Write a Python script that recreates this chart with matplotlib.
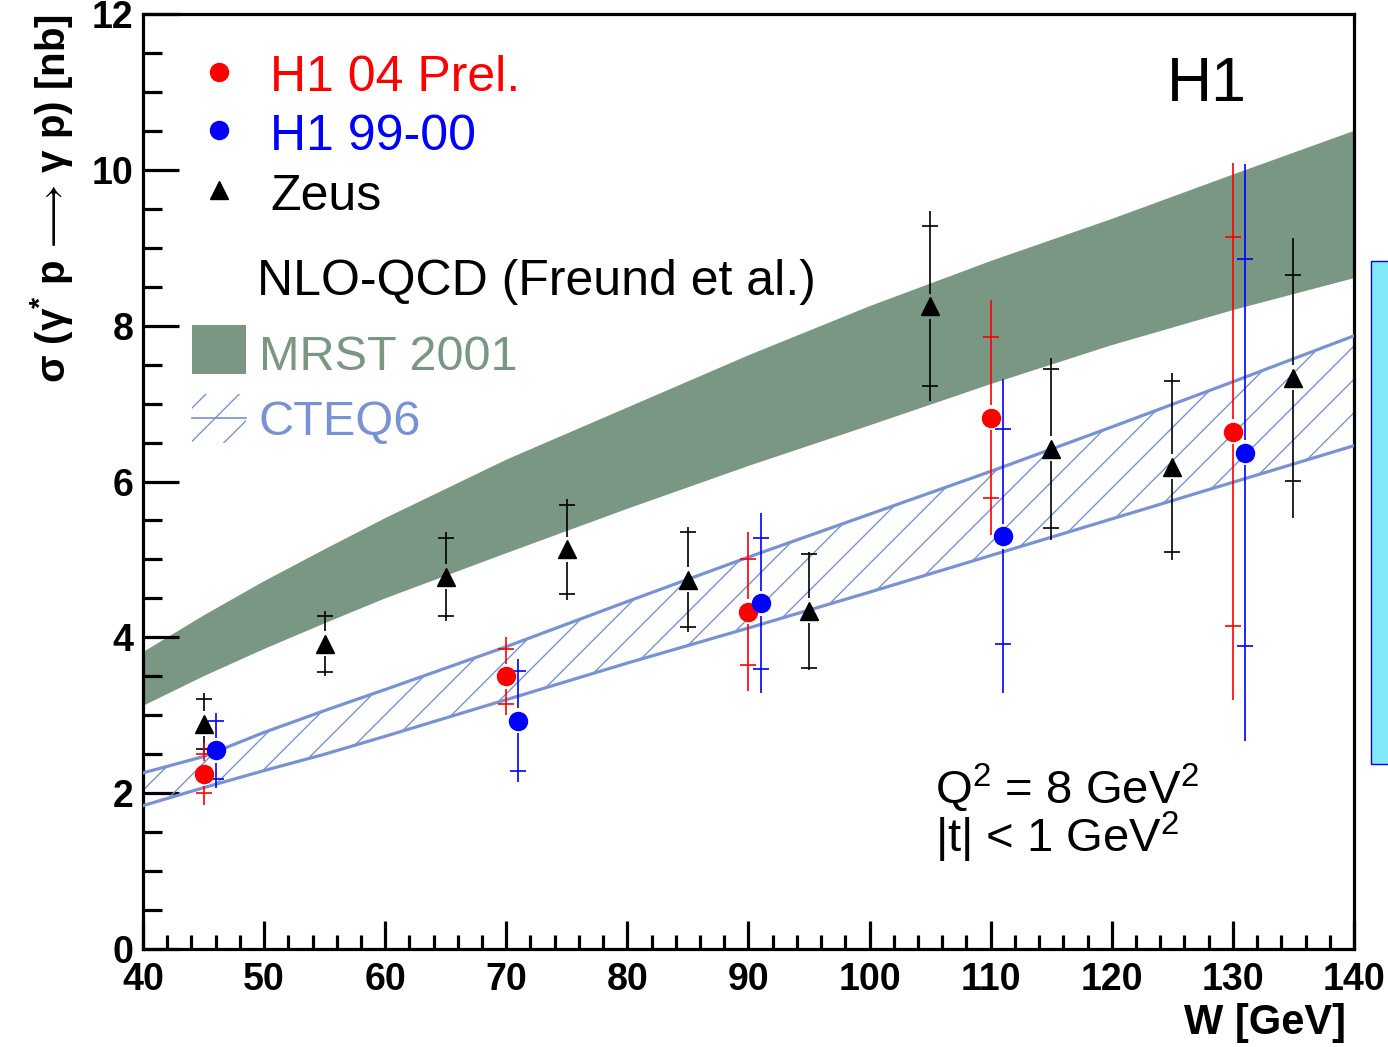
import matplotlib
matplotlib.use('Agg')
import matplotlib.pyplot as plt
import matplotlib.transforms as mtransforms
from matplotlib.patches import Rectangle
from matplotlib.ticker import MultipleLocator
import numpy as np

plt.rcParams['font.family'] = ['Liberation Sans', 'DejaVu Sans']
plt.rcParams['mathtext.fontset'] = 'custom'
plt.rcParams['mathtext.rm'] = 'Liberation Sans'
plt.rcParams['mathtext.it'] = 'Liberation Sans:italic'
plt.rcParams['mathtext.bf'] = 'Liberation Sans:bold'
plt.rcParams['mathtext.default'] = 'regular'
plt.rcParams['hatch.linewidth'] = 1.0

# H1 04 preliminary
h1_04_w = [45, 70, 90, 110, 130]
h1_04_xs = [2.25, 3.50, 4.33, 6.82, 6.64]
h1_04_stat = [0.25, 0.35, 0.68, 1.03, 2.50]
h1_04_tot = [0.40, 0.50, 1.02, 1.51, 3.45]

# H1 99-00
h1_99_w = [46, 71, 91, 111, 131]
h1_99_xs = [2.55, 2.93, 4.44, 5.30, 6.37]
h1_99_stat = [0.37, 0.64, 0.84, 1.38, 2.48]
h1_99_tot = [0.48, 0.79, 1.16, 2.01, 3.70]

# Zeus
zeus_w = [45, 55, 65, 75, 85, 95, 105, 115, 125, 135]
zeus_xs = [2.89, 3.92, 4.78, 5.13, 4.74, 4.34, 8.25, 6.42, 6.19, 7.33]
zeus_stat = [0.32, 0.36, 0.50, 0.57, 0.61, 0.73, 1.03, 1.02, 1.10, 1.32]
zeus_tot = [0.40, 0.42, 0.57, 0.65, 0.67, 0.76, 1.22, 1.17, 1.20, 1.80]

# NLO-QCD bands
mrst_w = [40, 45, 50, 55, 60, 70, 80, 90, 100, 110, 120, 130, 140]
mrst_lo = [3.12, 3.50, 3.85, 4.18, 4.50, 5.08, 5.65, 6.20, 6.72, 7.25, 7.75, 8.20, 8.61]
mrst_hi = [3.81, 4.28, 4.72, 5.13, 5.53, 6.28, 6.95, 7.62, 8.25, 8.83, 9.37, 9.94, 10.50]

cteq_w = [40, 45, 50, 55, 60, 70, 80, 90, 100, 110, 120, 130, 140]
cteq_lo = [1.84, 2.07, 2.29, 2.50, 2.73, 3.20, 3.67, 4.12, 4.58, 5.05, 5.52, 5.99, 6.46]
cteq_hi = [2.26, 2.47, 2.78, 3.06, 3.33, 3.88, 4.46, 5.03, 5.58, 6.13, 6.70, 7.28, 7.87]

GREEN = '#7a9783'
CBLUE = '#7892d2'
GAP = 0.16


def data_points(ax, w, xs, stat, tot, color, marker, ms):
    w = np.array(w)
    xs = np.array(xs)
    stat = np.array(stat)
    tot = np.array(tot)
    ax.vlines(w, xs + GAP, xs + tot, color=color, lw=1.2, zorder=5)
    ax.vlines(w, xs - tot, xs - GAP, color=color, lw=1.2, zorder=5)
    ax.errorbar(w, xs, yerr=stat, fmt='none', ecolor=color, elinewidth=0,
                capsize=5.5, capthick=1.2, zorder=5)
    ax.plot(w, xs, ls='none', marker=marker, ms=ms, color=color,
            mec=color, zorder=6)


fig = plt.figure(figsize=(13.88, 10.47), dpi=100)
ax = fig.add_axes([0.1030, 0.0936, 0.8725, 0.8930])

ax.fill_between(mrst_w, mrst_lo, mrst_hi, facecolor=GREEN, edgecolor='none', zorder=1)
ax.fill_between(cteq_w, cteq_lo, cteq_hi, facecolor='none', edgecolor=CBLUE,
                hatch='/', linewidth=0, zorder=2)
ax.plot(cteq_w, cteq_lo, color=CBLUE, lw=2.3, zorder=3)
ax.plot(cteq_w, cteq_hi, color=CBLUE, lw=2.3, zorder=3)

data_points(ax, zeus_w, zeus_xs, zeus_stat, zeus_tot, 'black', '^', 13.5)
data_points(ax, h1_04_w, h1_04_xs, h1_04_stat, h1_04_tot, '#ff0000', 'o', 13)
data_points(ax, h1_99_w, h1_99_xs, h1_99_stat, h1_99_tot, '#0000ff', 'o', 13)

ax.set_xlim(40, 140)
ax.set_ylim(0, 12)
ax.xaxis.set_major_locator(MultipleLocator(10))
ax.xaxis.set_minor_locator(MultipleLocator(2))
ax.yaxis.set_major_locator(MultipleLocator(2))
ax.yaxis.set_minor_locator(MultipleLocator(0.5))
ax.tick_params(axis='both', which='both', direction='in', top=False, right=False, width=2.3)
ax.tick_params(axis='y', which='major', length=26, pad=7)
ax.tick_params(axis='y', which='minor', length=13.5)
ax.tick_params(axis='x', which='major', length=20, pad=9)
ax.tick_params(axis='x', which='minor', length=10)
for lab in ax.get_xticklabels() + ax.get_yticklabels():
    lab.set_fontsize(27)
    lab.set_fontweight('bold')
for sp in ax.spines.values():
    sp.set_linewidth(2.3)

# lift the "0" a little so it just touches the "40" below it, as in ROOT
zero_lab = ax.get_yticklabels()[0]
zero_lab.set_transform(zero_lab.get_transform() +
                       mtransforms.ScaledTranslation(0, 4 / 72, fig.dpi_scale_trans))

ax.set_xlabel('W [GeV]', fontsize=30, fontweight='bold', loc='right')
ax.xaxis.set_label_coords(0.993, -0.058)
ax.set_ylabel(r'$\sigma$ ($\gamma^{*}$ p$\,\longrightarrow\,$$\gamma$ p) [nb]',
              fontsize=29, fontweight='bold', loc='top')
ax.yaxis.set_label_coords(-0.056, 1.0)

# legend, drawn by hand like the ROOT TLegend
tr = ax.transAxes
ax.plot([0.0628], [0.938], 'o', color='#ff0000', ms=13, transform=tr, clip_on=False)
ax.plot([0.0628], [0.876], 'o', color='#0000ff', ms=13, transform=tr, clip_on=False)
ax.plot([0.0628], [0.812], '^', color='black', ms=13, transform=tr, clip_on=False)
ax.text(0.1049, 0.9176, 'H1 04 Prel.', color='#ff0000', fontsize=36, transform=tr)
ax.text(0.1049, 0.8545, 'H1 99-00', color='#0000ff', fontsize=36, transform=tr)
ax.text(0.1049, 0.7900, 'Zeus', color='black', fontsize=36, transform=tr)
ax.text(0.0941, 0.6995, 'NLO-QCD (Freund et al.)', color='black', fontsize=36, transform=tr)
ax.add_patch(Rectangle((0.0405, 0.6150), 0.0446, 0.0524, facecolor=GREEN,
                       edgecolor='none', transform=tr))
ax.text(0.0958, 0.6190, 'MRST 2001', color=GREEN, fontsize=35, transform=tr)
ax.add_patch(Rectangle((0.0405, 0.5412), 0.0446, 0.0524, facecolor='none',
                       edgecolor=CBLUE, hatch='/', linewidth=0, transform=tr))
ax.plot([0.0405, 0.0851], [0.5674, 0.5674], color=CBLUE, lw=1.2, transform=tr)
ax.text(0.0958, 0.5497, 'CTEQ6', color=CBLUE, fontsize=35, transform=tr)

ax.text(0.8456, 0.907, 'H1', fontsize=45, transform=tr)
ax.text(0.654, 0.156, r'Q$^{2}$ = 8 GeV$^{2}$', fontsize=34, transform=tr)
ax.text(0.654, 0.1037, r'|t| < 1 GeV$^{2}$', fontsize=34, transform=tr)

# stray cyan box at the right edge of the original slide
fig.patches.append(Rectangle((0.9878, 0.2703), 0.03, 0.4804, facecolor='#80eaf8',
                             edgecolor='#0000ff', lw=1, transform=fig.transFigure))

fig.savefig('out.png', dpi=100)
